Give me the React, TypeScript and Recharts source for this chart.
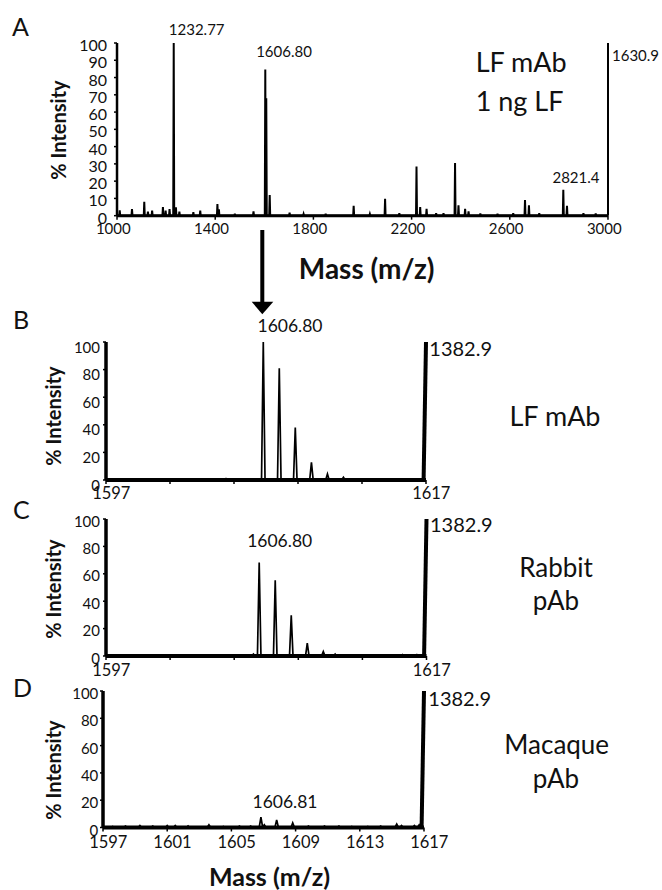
import { Line, LineChart, ReferenceLine, XAxis, YAxis } from 'recharts'

const FONT = 'Lato, "Open Sans", sans-serif'
const INK = '#111'

// A: full spectrum, 1000–3000 m/z
const massA = [1011, 1061, 1111, 1126, 1143, 1187, 1198, 1214, 1231, 1240, 1254, 1311, 1339, 1409, 1415, 1480, 1556, 1604, 1608, 1622, 1703, 1760, 1850, 1964, 2030, 2092, 2150, 2220, 2235, 2261, 2300, 2330, 2377, 2391, 2418, 2432, 2480, 2550, 2614, 2662, 2678, 2720, 2818, 2833, 2900, 2950]
const intensityA = [3.1, 3.9, 8.1, 2.3, 2.9, 5, 3, 3.9, 100, 4.8, 2.3, 2, 3, 6.7, 3.7, 1.2, 2.5, 84.6, 68, 12, 1.7, 1, 1.2, 5.7, 1, 9.8, 1.5, 28.5, 5, 4, 1.5, 1.5, 30.5, 6, 4, 2.5, 1.3, 1.2, 1.5, 9, 6, 1.5, 15, 5.7, 1.5, 1.3]
const ticksA = [1000, 1400, 1800, 2200, 2600, 3000]
const yTicksA = [0, 10, 20, 30, 40, 50, 60, 70, 80, 90, 100]

// B: LF mAb, zoom 1597–1617
const massB = [1600.9, 1604.5, 1606.2, 1606.83, 1607.83, 1608.83, 1609.84, 1610.84, 1611.84]
const intensityB = [0.5, 1, 0.6, 100, 81, 38, 12.8, 4.3, 2]

// C: Rabbit pAb
const massC = [1599.7, 1601.3, 1602.6, 1603.8, 1605.2, 1606.2, 1606.56, 1607.56, 1608.56, 1609.56, 1610.56, 1611.3, 1612.5, 1614, 1615.5, 1616.4]
const intensityC = [0.6, 0.5, 0.5, 0.6, 0.7, 1.5, 68.3, 55.3, 29.7, 9.4, 3.3, 1.5, 0.8, 0.8, 1, 1]

// D: Macaque pAb
const massD = [1597.6, 1598.4, 1599.3, 1600.1, 1601, 1601.5, 1602.3, 1603.6, 1604.5, 1605.5, 1606.2, 1606.84, 1607.05, 1607.82, 1608.82, 1609.8, 1610.8, 1611.7, 1612.5, 1613.5, 1614.3, 1615.3, 1615.6, 1616.4, 1616.7]
const intensityD = [0.8, 1, 1.5, 1, 1.5, 1.5, 1.2, 2, 0.8, 1, 1, 7.5, 2, 5.6, 3.4, 1, 1, 1, 0.8, 0.8, 1, 2.5, 1.5, 1.5, 2]

const zoomTicks = [1597, 1601, 1605, 1609, 1613, 1617]
const zoomEnds = [1597, 1617]
const yTicksZoom = [0, 20, 40, 60, 80, 100]

type Pt = { mz: number; v: number }

// stick spectrum: each peak becomes a narrow spike on a zero baseline
function spectrum(mass: number[], inten: number[], lo: number, hi: number, hw: number): Pt[] {
  const pts: Pt[] = [{ mz: lo, v: 0 }]
  mass.forEach((m, i) => {
    pts.push({ mz: m - hw, v: 0 }, { mz: m, v: inten[i] }, { mz: m + hw, v: 0 })
  })
  pts.push({ mz: hi, v: 0 })
  return pts
}

type PanelProps = {
  left: number
  top: number
  width: number
  height: number
  data: Pt[]
  domain: [number, number]
  xTicks: number[]
  xLabelled: number[]
  yTicks: number[]
  edge: [number, number]
  edgeWidth: number
  lineWidth: number
  xAxisWidth: number
  yAxisWidth: number
  yGap: number
  yDy: number
  xDx: number
  xDy: number
  yFont: number
  xFont: number
}

function Panel(p: PanelProps) {
  const W = p.width + 100
  const H = p.height + 40
  return (
    <div style={{ position: 'absolute', left: p.left - 60, top: p.top - 10 }}>
      <LineChart width={W} height={H} data={p.data} margin={{ top: 10, right: 40, bottom: 0, left: 0 }}>
        <XAxis
          type="number"
          dataKey="mz"
          domain={p.domain}
          ticks={p.xTicks}
          interval={0}
          allowDataOverflow
          height={30}
          tickSize={4}
          tickMargin={2}
          axisLine={{ stroke: '#000', strokeWidth: p.xAxisWidth }}
          tickLine={{ stroke: '#000', strokeWidth: 1.5 }}
          tick={(t: any) =>
            p.xLabelled.includes(t.payload.value) ? (
              <text x={t.x + p.xDx} y={t.y + p.xDy} textAnchor="middle" dominantBaseline="central" fontSize={p.xFont} fontFamily={FONT} fill={INK}>
                {t.payload.value}
              </text>
            ) : (
              <g />
            )
          }
        />
        <YAxis
          type="number"
          domain={[0, 100]}
          ticks={p.yTicks}
          interval={0}
          allowDataOverflow
          width={60}
          tickSize={3}
          tickMargin={p.yGap - 3}
          axisLine={{ stroke: '#000', strokeWidth: p.yAxisWidth }}
          tickLine={{ stroke: '#000', strokeWidth: 1.5 }}
          tick={(t: any) => (
            <text x={t.x} y={t.y + p.yDy} textAnchor="end" dominantBaseline="central" fontSize={p.yFont} fontFamily={FONT} fill={INK}>
              {t.payload.value}
            </text>
          )}
        />
        <ReferenceLine
          segment={[{ x: p.edge[0], y: 0 }, { x: p.edge[1], y: 100 }]}
          stroke="#000"
          strokeWidth={p.edgeWidth}
        />
        <Line type="linear" dataKey="v" stroke="#000" strokeWidth={p.lineWidth} dot={false} isAnimationActive={false} />
      </LineChart>
    </div>
  )
}

function T(props: { x: number; y: number; size: number; bold?: boolean; anchor?: 'start' | 'middle' | 'end'; rotate?: boolean; children: string }) {
  return (
    <text
      x={props.x}
      y={props.y}
      fontSize={props.size}
      fontWeight={props.bold ? 700 : 400}
      textAnchor={props.anchor ?? 'middle'}
      dominantBaseline="central"
      fontFamily={FONT}
      fill={INK}
      transform={props.rotate ? `rotate(-90 ${props.x} ${props.y})` : undefined}
    >
      {props.children}
    </text>
  )
}

export default function App() {
  const dataA = spectrum(massA, intensityA, 1000, 3000, 2)
  const dataB = spectrum(massB, intensityB, 1597, 1616.85, 0.11)
  const dataC = spectrum(massC, intensityC, 1597, 1616.85, 0.11)
  const dataD = spectrum(massD, intensityD, 1597, 1616.85, 0.11)

  const zoom = { domain: [1597, 1617] as [number, number], xTicks: zoomTicks, yTicks: yTicksZoom, edge: [1616.85, 1617] as [number, number], edgeWidth: 4, lineWidth: 1.7, xAxisWidth: 4, yAxisWidth: 3.5, yFont: 15, xFont: 16.5, xDx: 5.3 }

  return (
    <div style={{ position: 'absolute', left: 0, top: 0, width: 662, height: 890, background: '#fff' }}>
      <Panel left={116.7} top={43.3} width={491} height={172.7} data={dataA} domain={[1000, 3000]} xTicks={ticksA} xLabelled={ticksA} yTicks={yTicksA}
        edge={[3000, 3000]} edgeWidth={2} lineWidth={2} xAxisWidth={3} yAxisWidth={2.5} yGap={10} yDy={1.5} xDx={-3.7} xDy={6} yFont={16} xFont={15} />
      <Panel left={106} top={342} width={320} height={138} data={dataB} xLabelled={zoomEnds} yGap={6} yDy={4.5} xDy={7.3} {...zoom} />
      <Panel left={106} top={518.5} width={320.5} height={137} data={dataC} xLabelled={zoomEnds} yGap={6} yDy={1.5} xDy={7.5} {...zoom} />
      <Panel left={103} top={690.5} width={321} height={136.5} data={dataD} xLabelled={zoomTicks} yGap={4.7} yDy={2} xDy={8.7} {...zoom} />

      <svg width={662} height={890} style={{ position: 'absolute', left: 0, top: 0, pointerEvents: 'none' }}>
        <T x={12} y={26} size={25} anchor="start">A</T>
        <T x={13} y={319} size={25} anchor="start">B</T>
        <T x={13} y={509} size={25} anchor="start">C</T>
        <T x={13} y={687} size={25} anchor="start">D</T>

        <T x={58} y={130} size={20} bold rotate>% Intensity</T>
        <T x={53} y={416} size={20} bold rotate>% Intensity</T>
        <T x={53} y={589} size={20} bold rotate>% Intensity</T>
        <T x={53} y={770} size={20} bold rotate>% Intensity</T>

        <T x={196.7} y={29.3} size={15}>1232.77</T>
        <T x={284} y={51} size={15}>1606.80</T>
        <T x={576} y={176.7} size={15}>2821.4</T>
        <T x={612} y={55} size={15} anchor="start">1630.9</T>
        <T x={475.7} y={61.7} size={27} anchor="start">LF mAb</T>
        <T x={475.7} y={100} size={27} anchor="start">1 ng LF</T>
        <T x={366.7} y={268.3} size={28} bold>Mass (m/z)</T>

        <rect x={260.3} y={230} width={4} height={73} fill="#000" />
        <polygon points="251.7,301.7 273.3,301.7 262.3,314.3" fill="#000" />

        <T x={290} y={325.7} size={17.5}>1606.80</T>
        <T x={429.3} y={348.3} size={20} anchor="start">1382.9</T>
        <T x={555} y={415.7} size={27}>LF mAb</T>

        <T x={279.7} y={540} size={17.5}>1606.80</T>
        <T x={430} y={524} size={20} anchor="start">1382.9</T>
        <T x={556} y={566.7} size={26}>Rabbit</T>
        <T x={556} y={600} size={26}>pAb</T>

        <T x={285} y={801.7} size={17.5}>1606.81</T>
        <T x={428.3} y={698.3} size={20} anchor="start">1382.9</T>
        <T x={556.7} y={744} size={26}>Macaque</T>
        <T x={556} y={778.3} size={26}>pAb</T>
        <T x={269.5} y={875.5} size={25} bold>Mass (m/z)</T>
      </svg>
    </div>
  )
}
